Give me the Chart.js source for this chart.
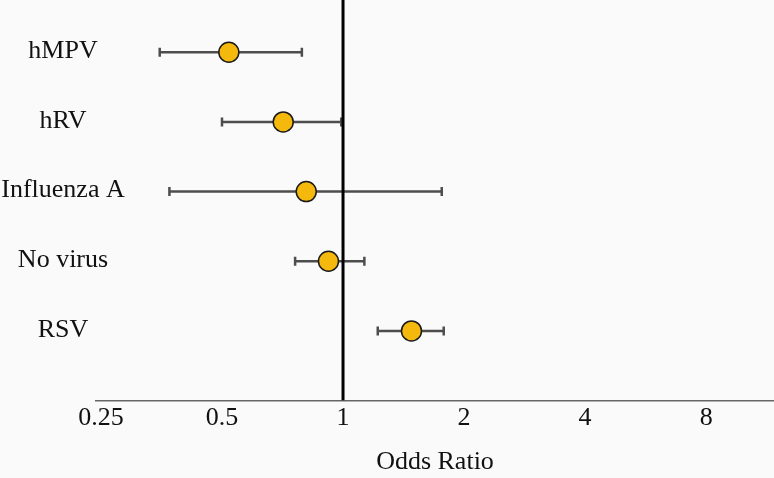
<!DOCTYPE html>
<html>
<head>
<meta charset="utf-8">
<script src="https://cdn.jsdelivr.net/npm/chart.js@4/dist/chart.umd.min.js"></script>
<style>
  html, body { margin: 0; padding: 0; background: #fafafa; }
  #wrap { width: 774px; height: 478px; }
</style>
</head>
<body>
<div id="wrap"><canvas id="forest"></canvas></div>
<script>
"use strict";

// podaci ocitani sa slike
const groups = ['hMPV', 'hRV', 'Influenza A', 'No virus', 'RSV'];
const oddsRatio = [0.52, 0.71, 0.81, 0.92, 1.48];
const ciLow = [0.35, 0.50, 0.37, 0.76, 1.22];
const ciHigh = [0.79, 0.99, 1.76, 1.13, 1.78];
const xTicks = [0.25, 0.5, 1, 2, 4, 8];
const refValue = 1;

const serif = "'Liberation Serif', 'DejaVu Serif', serif";

// tacke (prvi dataset se crta poslednji, tj. na vrhu)
const datasets = [{
    data: groups.map((g, i) => ({ x: oddsRatio[i], y: i + 1 })),
    pointRadius: 10,
    pointBackgroundColor: '#f5b80c',
    pointBorderColor: '#1a1a1a',
    pointBorderWidth: 1.5,
    showLine: false
}, {
    // referentna linija OR = 1
    data: [{ x: refValue, y: 0.25 }, { x: refValue, y: 6 }],
    showLine: true,
    borderColor: '#000000',
    borderWidth: 3,
    pointRadius: 0
}];

// intervali pouzdanosti
groups.forEach(function(g, i) {
    datasets.push({
        data: [{ x: ciLow[i], y: i + 1 }, { x: ciHigh[i], y: i + 1 }],
        showLine: true,
        borderColor: '#4d4d4d',
        borderWidth: 2.5,
        pointStyle: 'line',
        pointRotation: 90,
        pointRadius: 4.5,
        pointBorderColor: '#4d4d4d',
        pointBorderWidth: 2.5
    });
});

// nazivi grupa levo od grafikona
const groupLabels = {
    id: 'groupLabels',
    afterDraw(chart) {
        const ctx = chart.ctx;
        const y = chart.scales.y;
        ctx.save();
        ctx.font = '26px ' + serif;
        ctx.fillStyle = '#111111';
        ctx.textAlign = 'center';
        ctx.textBaseline = 'middle';
        groups.forEach(function(g, i) {
            ctx.fillText(g, 63, y.getPixelForValue(i + 1) - 1);
        });
        ctx.restore();
    }
};

const bg = {
    id: 'bg',
    beforeDraw(chart) {
        const ctx = chart.ctx;
        ctx.save();
        ctx.fillStyle = '#fafafa';
        ctx.fillRect(0, 0, chart.width, chart.height);
        ctx.restore();
    }
};

new Chart(document.getElementById('forest'), {
    type: 'scatter',
    data: { datasets: datasets },
    options: {
        responsive: true,
        maintainAspectRatio: false,
        animation: false,
        layout: { autoPadding: false, padding: { left: 96, right: 0, top: 0, bottom: 0 } },
        plugins: {
            legend: { display: false },
            tooltip: { enabled: false }
        },
        elements: { line: { tension: 0 } },
        scales: {
            x: {
                type: 'logarithmic',
                min: 0.243,
                max: 11.8,
                afterBuildTicks(scale) {
                    scale.ticks = xTicks.map(v => ({ value: v }));
                },
                grid: { display: false, drawTicks: false },
                border: { display: true, color: '#666666', width: 1.5 },
                ticks: {
                    padding: 2,
                    autoSkip: false,
                    maxRotation: 0,
                    color: '#111111',
                    font: { family: serif, size: 26 },
                    callback: v => String(v)
                },
                title: {
                    display: true,
                    text: 'Odds Ratio',
                    color: '#111111',
                    font: { family: serif, size: 26 },
                    padding: { top: 11, bottom: 0 }
                }
            },
            y: {
                type: 'linear',
                reverse: true,
                min: 0.25,
                max: 6,
                display: false
            }
        }
    },
    plugins: [bg, groupLabels]
});
</script>
</body>
</html>
